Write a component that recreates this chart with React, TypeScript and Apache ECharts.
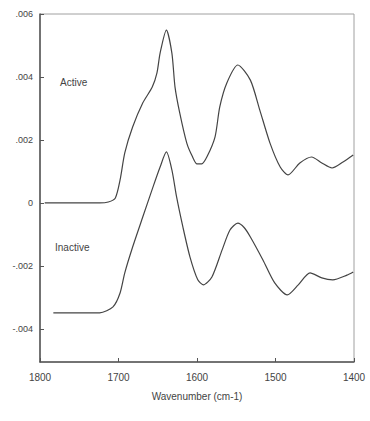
import React, { useEffect, useRef } from "react";
import * as echarts from "echarts";

const activeWavenumbers = [1794, 1724, 1713, 1704, 1698, 1692, 1682, 1669, 1657, 1651, 1647, 1639, 1632, 1628, 1622, 1613, 1606, 1600, 1594, 1587, 1577, 1571, 1562, 1548, 1532, 1520, 1507, 1494, 1484, 1469, 1454, 1441, 1428, 1414, 1401];
const activeValues = [0, 0, 0.00003, 0.00016, 0.00073, 0.00159, 0.00241, 0.00318, 0.00368, 0.00413, 0.00476, 0.00549, 0.00476, 0.00368, 0.00286, 0.0019, 0.00148, 0.00124, 0.00124, 0.00148, 0.0021, 0.00305, 0.00381, 0.00438, 0.0039, 0.00295, 0.0019, 0.00114, 0.00089, 0.00127, 0.00146, 0.00127, 0.00111, 0.0013, 0.00152];

const inactiveWavenumbers = [1783, 1724, 1707, 1698, 1692, 1682, 1669, 1656, 1647, 1639, 1632, 1626, 1618, 1609, 1599, 1592, 1581, 1568, 1558, 1548, 1540, 1532, 1516, 1501, 1485, 1471, 1456, 1441, 1427, 1409, 1401];
const inactiveValues = [-0.00349, -0.00349, -0.0033, -0.00286, -0.00222, -0.0014, -0.00044, 0.00051, 0.00114, 0.00162, 0.00105, 0.00019, -0.00076, -0.00171, -0.00244, -0.0026, -0.00235, -0.00149, -0.00086, -0.00064, -0.00078, -0.00108, -0.00181, -0.00254, -0.00292, -0.0026, -0.00222, -0.00238, -0.00244, -0.00229, -0.00219];

const yTickValues = [-0.004, -0.002, 0, 0.002, 0.004, 0.006];
const yTickLabels = ["-.004", "-.002", "0", ".002", ".004", ".006"];
const xTitle = "Wavenumber (cm-1)";
const seriesNames = ["Active", "Inactive"];

export default function App() {
  const ref = useRef<HTMLDivElement>(null);
  useEffect(() => {
    if (!ref.current) return;
    const chart = echarts.init(ref.current, null, { renderer: "svg" });
    const font = "Liberation Sans, Arial, sans-serif";
    const lineColor = "#444";
    chart.setOption({
      animation: false,
      backgroundColor: "#ffffff",
      grid: {
        left: 40,
        right: 16,
        top: 14,
        bottom: 59,
        show: true,
        borderColor: "#a0a0a0",
        borderWidth: 1,
      },
      xAxis: {
        type: "value",
        min: 1400,
        max: 1800,
        interval: 100,
        inverse: true,
        name: xTitle,
        nameLocation: "middle",
        nameGap: 29,
        nameTextStyle: { fontFamily: font, fontSize: 10, color: "#444" },
        axisLine: { show: true, onZero: false, lineStyle: { color: "#555", width: 1.5 } },
        axisTick: { show: true, inside: true, length: 4, lineStyle: { color: "#555" } },
        axisLabel: { fontFamily: font, fontSize: 10, color: "#444", margin: 10, formatter: (v: number) => String(v) },
        splitLine: { show: false },
      },
      yAxis: {
        type: "value",
        min: -0.00505,
        max: 0.006,
        axisLine: { show: true, onZero: false, lineStyle: { color: "#555", width: 1.5 } },
        axisTick: { show: true, inside: true, length: 4, customValues: yTickValues, lineStyle: { color: "#555" } },
        axisLabel: {
          fontFamily: font,
          fontSize: 9,
          color: "#444",
          margin: 7,
          customValues: yTickValues,
          formatter: (v: number) => {
            const i = yTickValues.findIndex((t) => Math.abs(t - v) < 1e-9);
            return i >= 0 ? yTickLabels[i] : "";
          },
        },
        splitLine: { show: false },
      },
      graphic: [
        { type: "text", left: 60, top: 77, style: { text: seriesNames[0], fontFamily: font, fontSize: 10, fill: "#444" } },
        { type: "text", left: 55, top: 242, style: { text: seriesNames[1], fontFamily: font, fontSize: 10, fill: "#444" } },
      ],
      series: [
        {
          name: seriesNames[0],
          type: "line",
          smooth: 0.25,
          showSymbol: false,
          lineStyle: { color: lineColor, width: 1.2 },
          data: activeWavenumbers.map((w, i) => [w, activeValues[i]]),
        },
        {
          name: seriesNames[1],
          type: "line",
          smooth: 0.25,
          showSymbol: false,
          lineStyle: { color: lineColor, width: 1.2 },
          data: inactiveWavenumbers.map((w, i) => [w, inactiveValues[i]]),
        },
      ],
    });
    return () => chart.dispose();
  }, []);
  return <div ref={ref} style={{ width: 370, height: 421, position: "absolute", left: 0, top: 0 }} />;
}
